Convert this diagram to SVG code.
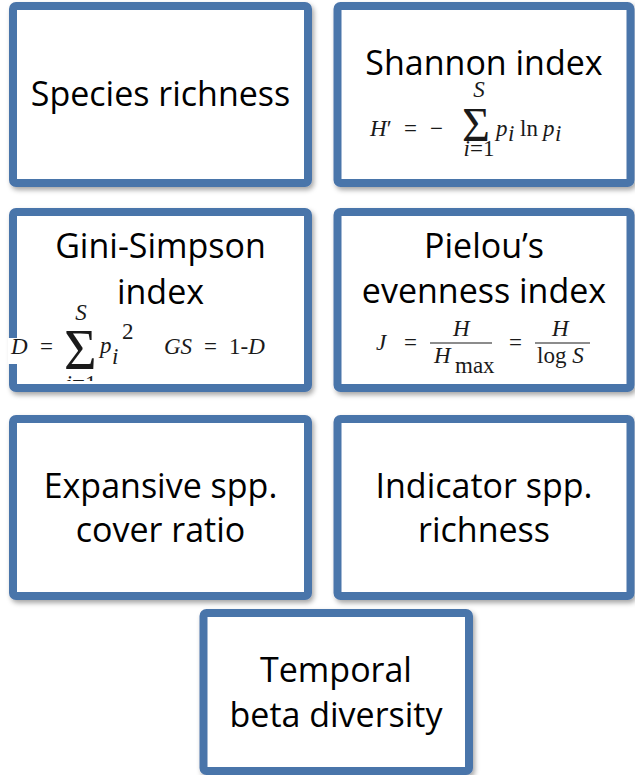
<svg xmlns="http://www.w3.org/2000/svg" width="635" height="775" viewBox="0 0 635 775">
<defs>
<filter id="sh" x="-10%" y="-10%" width="120%" height="125%">
<feDropShadow dx="2" dy="3" stdDeviation="2.5" flood-color="#000" flood-opacity="0.35"/>
</filter>
<clipPath id="giniClip"><rect x="0" y="300" width="320" height="81"/></clipPath>
<style>
.box{fill:#fff;stroke:#4A74AA;stroke-width:8;filter:url(#sh)}
.t{font-family:"Open Sans","Liberation Sans",sans-serif;font-size:34px;fill:#000;text-anchor:middle}
.m{font-family:"Liberation Serif","DejaVu Serif",serif;font-size:23px;fill:#1a1a1a}
.i{font-style:italic}
.sig{font-family:"Liberation Serif","DejaVu Serif",serif;fill:#1a1a1a}
.fl{stroke:#1a1a1a;stroke-width:1.2}
</style>
</defs>
<rect width="635" height="775" fill="#fff"/>
<g id="connectors"></g>

<g id="species-richness">
<rect class="box" x="13" y="6" width="295" height="177" rx="3"/>
<text class="t" x="160.5" y="106">Species richness</text>
</g>

<g id="shannon-index">
<rect class="box" x="337.5" y="6" width="293" height="177" rx="3"/>
<text class="t" x="484" y="75">Shannon index</text>
<text class="m" x="370" y="136"><tspan class="i">H</tspan>′</text>
<text class="m" x="404" y="136">=</text>
<text class="m" x="430" y="136">−</text>
<text class="sig" x="462" y="141" font-size="48">Σ</text>
<text class="m i" x="479" y="97" font-size="14" text-anchor="middle">S</text>
<text class="m" x="479" y="156" font-size="14" text-anchor="middle"><tspan class="i">i</tspan>=1</text>
<text class="m i" x="496" y="136">p</text>
<text class="m i" x="508" y="141" font-size="14">i</text>
<text class="m" x="520" y="136">ln</text>
<text class="m i" x="543" y="136">p</text>
<text class="m i" x="555" y="141" font-size="14">i</text>
</g>

<g id="gini-simpson-index">
<rect class="box" x="13" y="212" width="295" height="176" rx="3"/>
<rect x="8" y="338" width="10" height="26" fill="#fff"/>
<text class="t" x="160.5" y="258">Gini-Simpson</text>
<text class="t" x="160.5" y="304">index</text>
<text class="m i" x="11" y="354" font-size="21">D</text>
<text class="m" x="40" y="354" font-size="21">=</text>
<text class="sig" x="64" y="369" font-size="56">Σ</text>
<text class="m i" x="81" y="320" font-size="14" text-anchor="middle">S</text>
<text class="m" x="81" y="391" font-size="14" text-anchor="middle" clip-path="url(#giniClip)"><tspan class="i">i</tspan>=1</text>
<text class="m i" x="100" y="353" font-size="21">p</text>
<text class="m i" x="112" y="364" font-size="13">i</text>
<text class="m" x="122" y="339" font-size="14">2</text>
<text class="m i" x="164" y="354" font-size="21">GS</text>
<text class="m" x="204" y="354" font-size="21">=</text>
<text class="m" x="229" y="354" font-size="21">1-<tspan class="i">D</tspan></text>
</g>

<g id="pielou-evenness-index">
<rect class="box" x="337.5" y="212" width="293" height="176" rx="3"/>
<text class="t" x="484" y="258">Pielou’s</text>
<text class="t" x="484" y="303">evenness index</text>
<text class="m i" x="376" y="350" font-size="19">J</text>
<text class="m" x="404" y="350" font-size="19">=</text>
<line class="fl" x1="430" y1="343" x2="492" y2="343"/>
<text class="m i" x="453" y="336" font-size="17">H</text>
<text class="m i" x="434" y="363" font-size="17">H</text>
<text class="m" x="455" y="373" font-size="12">max</text>
<text class="m" x="509" y="350" font-size="19">=</text>
<line class="fl" x1="535" y1="343" x2="590" y2="343"/>
<text class="m i" x="552" y="336" font-size="17">H</text>
<text class="m" x="537" y="363" font-size="17">log <tspan class="i">S</tspan></text>
</g>

<g id="expansive-spp-cover-ratio">
<rect class="box" x="13" y="419" width="295" height="177" rx="3"/>
<text class="t" x="160.5" y="498">Expansive spp.</text>
<text class="t" x="160.5" y="542">cover ratio</text>
</g>

<g id="indicator-spp-richness">
<rect class="box" x="337.5" y="419" width="293" height="177" rx="3"/>
<text class="t" x="484" y="498">Indicator spp.</text>
<text class="t" x="484" y="542">richness</text>
</g>

<g id="temporal-beta-diversity">
<rect class="box" x="203.5" y="613" width="265.5" height="158" rx="3"/>
<text class="t" x="336" y="682">Temporal</text>
<text class="t" x="336" y="727">beta diversity</text>
</g>
</svg>
